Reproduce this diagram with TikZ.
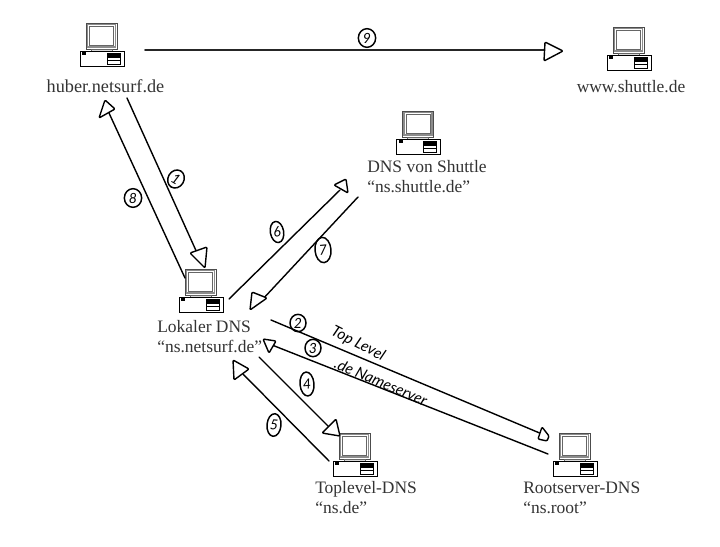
\documentclass[tikz,border=0pt]{standalone}
\usepackage{fontspec}
\setmainfont{Liberation Serif}
\newfontfamily\handfont{Lato}
\usetikzlibrary{shapes.geometric}
\definecolor{labelgray}{gray}{0.2}
\definecolor{framegray}{gray}{0.55}
\tikzset{
  stem/.style={draw=black,line width=1.05pt,line cap=round},
  headtip/.style={draw=black,fill=white,line width=1.05pt,rounded corners=0.8pt,line join=round},
  hostlabel/.style={font=\fontsize{13.1}{15}\selectfont,text=labelgray,inner sep=0pt,align=left},
  numring/.style={draw=black,line width=1.1pt,ellipse,inner sep=0pt,font=\fontsize{10.5}{10.5}\selectfont\handfont\itshape},
  handnote/.style={font=\fontsize{11.5}{12}\selectfont\handfont\itshape,inner sep=0pt},
  pics/computer/.style={code={
    \draw[draw=black!70,fill=white,line width=0.4pt] (-16,-28) rectangle (15,-2);
    \draw[draw=framegray,line width=1.4pt] (-14.5,-26.5) rectangle (13.5,-4);
    \draw[draw=black!60,line width=0.4pt] (-12.5,-24.5) rectangle (11.5,-5.5);
    \draw[draw=black!60,fill=black!15,line width=0.3pt] (-11,-2) rectangle (10,0);
    \draw[draw=black,fill=white,line width=0.6pt] (-22,0) rectangle (22,15);
    \fill[black] (-20,1) rectangle (-16,3.5);
    \draw[draw=black,fill=white,line width=0.5pt] (5,2) rectangle (18,13);
    \fill[black] (5,2) rectangle (18,6.5);
    \fill[black] (5,9) rectangle (18,9.8);
  }}
}
\begin{document}
\begin{tikzpicture}[x=0.75pt,y=-0.75pt]
\useasboundingbox (0,0) rectangle (720,546);

% computers
\pic (pcHuber) at (102,51) {computer};
\pic (pcWww) at (629,55) {computer};
\pic (pcShuttle) at (418.5,139) {computer};
\pic (pcLokal) at (201,297) {computer};
\pic (pcTop) at (355,461) {computer};
\pic (pcRoot) at (575,461) {computer};

% host labels
\node[hostlabel,font=\fontsize{13.7}{15}\selectfont] (lblHuber) at (105.5,86) {huber.netsurf.de};
\node[hostlabel] (lblWww) at (631,87) {www.shuttle.de};
\node[hostlabel,anchor=west] (lblShuttle) at (367,177) {DNS von Shuttle\\“ns.shuttle.de”};
\node[hostlabel,anchor=west] (lblLokal) at (157,337) {Lokaler DNS\\“ns.netsurf.de”};
\node[hostlabel,anchor=west] (lblTop) at (315,498) {Toplevel-DNS\\“ns.de”};
\node[hostlabel,anchor=west] (lblRoot) at (523,498) {Rootserver-DNS\\“ns.root”};

% connector ends
\coordinate (a9s) at (145,50);   \coordinate (a9e) at (547,50);
\coordinate (a1s) at (127,98);   \coordinate (a1e) at (198,255);
\coordinate (a8s) at (185,278);  \coordinate (a8e) at (109,113);
\coordinate (a6s) at (229,299);  \coordinate (a6e) at (340,190);
\coordinate (a7s) at (358,197);  \coordinate (a7e) at (262,300);
\coordinate (a2s) at (271,320);  \coordinate (a2e) at (542,434);
\coordinate (a3s) at (548,454);  \coordinate (a3e) at (272,345);
\coordinate (a4s) at (259,357);  \coordinate (a4e) at (331,429);
\coordinate (a5s) at (329,461);  \coordinate (a5e) at (243,374);

% connectors
\draw[stem,line width=1.4pt,draw=black!85] (a9s) -- (a9e);
\draw[stem] (a1s) -- (a1e);
\draw[stem] (a8s) -- (a8e);
\draw[stem] (a6s) -- (a6e);
\draw[stem] (a7s) -- (a7e);
\draw[stem] (a2s) -- (a2e);
\draw[stem] (a3s) -- (a3e);
\draw[stem] (a4s) -- (a4e);
\draw[stem] (a5s) -- (a5e);

% open hand-drawn arrow heads
\draw[headtip] (545,42) -- (563,51) -- (544,61) -- cycle;
\draw[headtip] (190,253) -- (207,247) -- (205,268) -- cycle;
\draw[headtip] (99,118) -- (105,100) -- (115,109) -- cycle;
\draw[headtip] (334,185) -- (346,179) -- (348,193) -- cycle;
\draw[headtip] (252,292) -- (267,298) -- (250,310) -- cycle;
\draw[headtip] (542,427) -- (549,436) -- (547,441) -- (538,439) -- cycle;
\draw[headtip] (263,339) -- (276,341) -- (269,353) -- cycle;
\draw[headtip] (322,433) -- (336,419) -- (340,436) -- cycle;
\draw[headtip] (234,380) -- (233,360) -- (249,369) -- cycle;

% step numbers
\node[numring,minimum width=13pt,minimum height=14pt] (n9) at (367,38) {9};
\node[numring,minimum width=12pt,minimum height=14pt,rotate=-30] (n1) at (176,179) {1};
\node[numring,minimum width=13pt,minimum height=14pt] (n8) at (133,198) {8};
\node[numring,minimum width=10pt,minimum height=16pt,rotate=10] (n6) at (277,232) {6};
\node[numring,minimum width=12pt,minimum height=19pt,rotate=5] (n7) at (323,250) {7};
\node[numring,minimum width=12pt,minimum height=13pt] (n2) at (298,323) {2};
\node[numring,minimum width=12pt,minimum height=13pt] (n3) at (313,348) {3};
\node[numring,minimum width=10.5pt,minimum height=18pt,rotate=5] (n4) at (307,384) {4};
\node[numring,minimum width=10.5pt,minimum height=17pt,rotate=-5] (n5) at (274,425) {5};

% handwritten notes
\node[handnote,rotate=-27] (noteTop) at (358,344) {Top Level};
\node[handnote,rotate=-23] (noteDe) at (381,382) {.de Nameserver};
\end{tikzpicture}
\end{document}
